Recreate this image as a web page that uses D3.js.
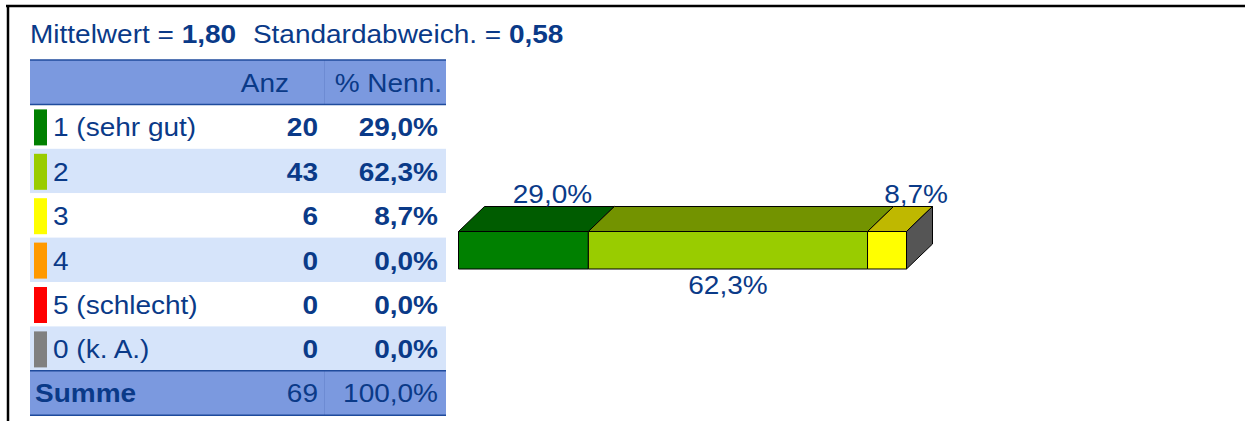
<!DOCTYPE html>
<html lang="de">
<head>
    <meta charset="UTF-8">
    <title>Mittelwert Tabelle</title>
    <script src="https://d3js.org/d3.v7.min.js"></script>
    <style>
        body { margin: 0; background: #fff; }
        svg text { font-family: "Liberation Sans", Arial, sans-serif; fill: #0a3a88; font-size: 25px; }
    </style>
</head>
<body>
    <svg width="1245" height="421"></svg>
    <script>
        // data
        const categories = ["1 (sehr gut)", "2", "3", "4", "5 (schlecht)", "0 (k. A.)"];
        const scoreValues = [1, 2, 3, 4, 5, null];
        const counts = [20, 43, 6, 0, 0, 0];
        const colors = ["#008000", "#99cc00", "#ffff00", "#ff9900", "#ff0000", "#808080"];
        const headerLabels = ["", "Anz", "% Nenn."];

        const total = d3.sum(counts);
        const fmt = (v, d) => v.toFixed(d).replace(".", ",");
        const pct = counts.map(c => fmt(c / total * 100, 1) + "%");

        // mean / std from rated answers
        let n = 0, s = 0, s2 = 0;
        counts.forEach((c, i) => {
            if (scoreValues[i] == null) return;
            n += c; s += c * scoreValues[i]; s2 += c * scoreValues[i] * scoreValues[i];
        });
        const mean = s / n;
        const sd = Math.sqrt(s2 / n - mean * mean);

        const svg = d3.select("svg");
        const SX = 1.12; // the original font runs a bit wider than Arial

        // text helper, stretched horizontally around its anchor
        function label(parent, x, y, txt, anchor = "start", bold = false) {
            return parent.append("text")
                .attr("transform", `translate(${x},${y}) scale(${SX},1)`)
                .attr("text-anchor", anchor)
                .style("font-weight", bold ? "bold" : null)
                .text(txt);
        }

        // frame
        svg.append("line").attr("x1", 6).attr("x2", 1245).attr("y1", 6).attr("y2", 6)
            .attr("stroke", "#000").attr("stroke-width", 2.5);
        svg.append("line").attr("x1", 8).attr("x2", 8).attr("y1", 5).attr("y2", 421)
            .attr("stroke", "#000").attr("stroke-width", 2.5);

        // title
        const title = label(svg, 30, 43, null);
        title.append("tspan").text("Mittelwert = ");
        title.append("tspan").style("font-weight", "bold").text(fmt(mean, 2));
        title.append("tspan").attr("dx", 15).text("Standardabweich. = ");
        title.append("tspan").style("font-weight", "bold").text(fmt(sd, 2));

        // table
        const tLeft = 30, tRight = 446, colSep = 324.5;
        const rowH = 44.4, headTop = 60;
        const rowY = d3.scaleLinear().domain([0, 1]).range([headTop, headTop + rowH]);
        const headBg = "#7b99df", altBg = "#d6e4fa", lineCol = "#1f4b9c";

        svg.append("rect").attr("x", tLeft).attr("y", rowY(0)).attr("width", tRight - tLeft)
            .attr("height", rowH).attr("fill", headBg);
        svg.append("line").attr("x1", colSep).attr("x2", colSep).attr("y1", rowY(0)).attr("y2", rowY(1))
            .attr("stroke", "#6d8bd3").attr("stroke-width", 1);

        label(svg, 289, rowY(0) + 32, headerLabels[1], "end");
        label(svg, 442, rowY(0) + 32, headerLabels[2], "end");

        const rows = svg.append("g").selectAll("g").data(categories).join("g")
            .attr("transform", (d, i) => `translate(0,${rowY(i + 1)})`);
        rows.append("rect").attr("x", tLeft).attr("width", tRight - tLeft).attr("height", rowH)
            .attr("fill", (d, i) => i % 2 ? altBg : "#fff");
        rows.append("rect").attr("x", 34).attr("y", 5).attr("width", 13).attr("height", 36)
            .attr("fill", (d, i) => colors[i]);
        rows.each(function (d, i) {
            const g = d3.select(this);
            label(g, 53, 32, d);
            label(g, 318, 32, counts[i], "end", true);
            label(g, 438, 32, pct[i], "end", true);
        });

        // summe row
        const sy = rowY(categories.length + 1);
        svg.append("rect").attr("x", tLeft).attr("y", sy).attr("width", tRight - tLeft)
            .attr("height", rowH).attr("fill", headBg);
        svg.append("line").attr("x1", colSep).attr("x2", colSep).attr("y1", sy).attr("y2", sy + rowH)
            .attr("stroke", "#6d8bd3").attr("stroke-width", 1);
        label(svg, 35, sy + 31, "Summe", "start", true);
        label(svg, 318, sy + 31, total, "end");
        label(svg, 438, sy + 31, fmt(100, 1) + "%", "end");

        // dark blue rules
        [rowY(0), rowY(1), sy, sy + rowH].forEach(y => {
            svg.append("line").attr("x1", tLeft).attr("x2", tRight).attr("y1", y).attr("y2", y)
                .attr("stroke", lineCol).attr("stroke-width", 1.5);
        });

        // 3d stacked bar
        const x = d3.scaleLinear().domain([0, total]).range([458.5, 906.5]);
        const barTop = 231.5, barH = 37.5, dx = 26, dy = 25;
        const cum = d3.cumsum(counts);
        const segs = counts.map((c, i) => ({ i, c, x0: x(cum[i] - c), x1: x(cum[i]) })).filter(d => d.c > 0);
        const darker = c => { const r = d3.rgb(c); return d3.rgb(r.r * 0.75, r.g * 0.72, r.b * 0.75).formatHex(); };

        const bar = svg.append("g").attr("stroke", "#000").attr("stroke-width", 1).attr("stroke-linejoin", "round");
        bar.selectAll(".top").data(segs).join("path").attr("class", "top")
            .attr("fill", d => darker(colors[d.i]))
            .attr("d", d => `M${d.x0},${barTop}L${d.x0 + dx},${barTop - dy}L${d.x1 + dx},${barTop - dy}L${d.x1},${barTop}Z`);
        bar.selectAll(".front").data(segs).join("rect").attr("class", "front")
            .attr("x", d => d.x0).attr("y", barTop).attr("width", d => d.x1 - d.x0).attr("height", barH)
            .attr("fill", d => colors[d.i]);
        const xe = x(total);
        bar.append("path").attr("fill", "#555555")
            .attr("d", `M${xe},${barTop}L${xe + dx},${barTop - dy}L${xe + dx},${barTop - dy + barH}L${xe},${barTop + barH}Z`);

        const labels = svg.append("g");
        segs.forEach((d, k) => {
            const cx = (d.x0 + d.x1) / 2 + (k % 2 ? 0 : 29);
            label(labels, cx, k % 2 ? 294 : 203, pct[d.i], "middle");
        });
    </script>
</body>
</html>
